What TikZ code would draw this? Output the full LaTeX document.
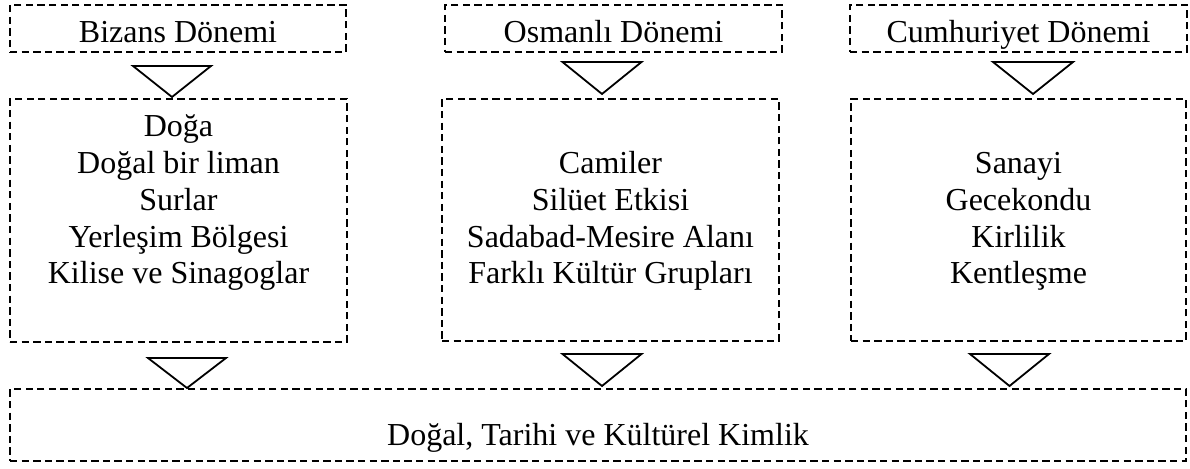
\documentclass[tikz,border=0pt]{standalone}
\usepackage{fontspec}
\setmainfont{Liberation Serif}
\newcommand\downtri[4]{% x, ytop, yapex, halfwidth
  \draw[trianglestyle] (#1-#4,#2) -- (#1+#4,#2) -- (#1,#3) -- cycle;}
\begin{document}
\begin{tikzpicture}[x=1pt,y=-1pt,
  dbox/.style={draw, line width=1.6pt, dash pattern=on 7.3pt off 4.3pt, inner sep=0pt, rectangle},
  txt/.style={inner sep=0pt, align=center, anchor=north, font=\fontsize{32}{36.7}\selectfont},
  trianglestyle/.style={draw, line width=1.8pt, line join=miter}]
\useasboundingbox (0,0) rectangle (1190,468);
% top boxes
\node[dbox, minimum width=336pt, minimum height=47pt] (t1) at (178,28.5) {};
\node[dbox, minimum width=337pt, minimum height=47pt] (t2) at (613.5,28.5) {};
\node[dbox, minimum width=337pt, minimum height=47pt] (t3) at (1018.5,28.5) {};
\node[txt] (t1txt) at (178,42-25) {\rule{0pt}{25pt}Bizans Dönemi};
\node[txt] (t2txt) at (613.5,42-25) {\rule{0pt}{25pt}Osmanlı Dönemi};
\node[txt] (t3txt) at (1018.5,42-25) {\rule{0pt}{25pt}Cumhuriyet Dönemi};
% middle boxes
\node[dbox, minimum width=337pt, minimum height=243pt] (m1) at (178.5,220.5) {};
\node[dbox, minimum width=337pt, minimum height=242pt] (m2) at (610.5,220) {};
\node[dbox, minimum width=335pt, minimum height=242pt] (m3) at (1018.5,220) {};
\node[txt] (m1txt) at (178.5,136.7-25) {\rule{0pt}{25pt}Doğa\\Doğal bir liman\\Surlar\\Yerleşim Bölgesi\\Kilise ve Sinagoglar};
\node[txt] (m2txt) at (610.5,173.4-25) {\rule{0pt}{25pt}Camiler\\Silüet Etkisi\\Sadabad-Mesire Alanı\\Farklı Kültür Grupları};
\node[txt] (m3txt) at (1018.5,173.4-25) {\rule{0pt}{25pt}Sanayi\\Gecekondu\\Kirlilik\\Kentleşme};
% bottom box
\node[dbox, minimum width=1176pt, minimum height=72pt] (b) at (598,425) {};
\node[txt] (btxt) at (598,445-25) {\rule{0pt}{25pt}Doğal, Tarihi ve Kültürel Kimlik};
% triangles
\downtri{172}{66}{97}{39}
\downtri{602}{62}{94}{39.5}
\downtri{1033}{62}{94}{40}
\downtri{187}{358}{388}{39}
\downtri{602}{354}{386}{39.5}
\downtri{1009.5}{354}{386}{39.5}
\end{tikzpicture}
\end{document}
